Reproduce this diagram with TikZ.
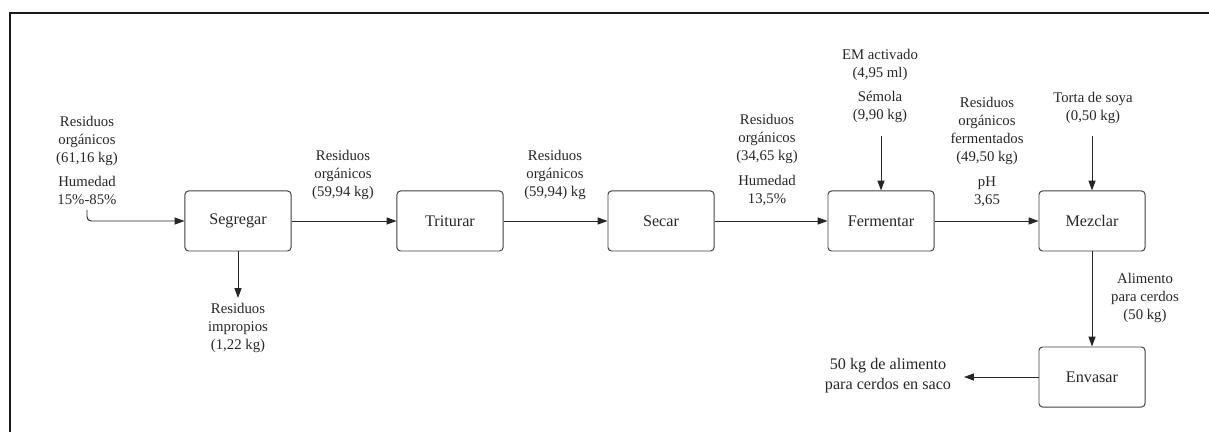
\documentclass[tikz,border=0pt]{standalone}
\usepackage{fontspec}
\setmainfont{Liberation Serif}
\usetikzlibrary{positioning}
\usetikzlibrary{arrows.meta}
\tikzset{proceso/.style={draw=black!75, line width=0.7pt, rounded corners=2.5pt,
  minimum width=2.65cm, minimum height=1.5cm, text=black!85,
  font=\fontsize{11.5}{14}\selectfont}}
\tikzset{etiqueta/.style={align=center, inner sep=0pt, text=black!85,
  font=\fontsize{10.5}{12.8}\selectfont}}
\tikzset{flujo/.style={-{Triangle[length=7pt,width=5pt]}, line width=0.7pt, draw=black!85}}

\begin{document}
\begin{tikzpicture}[x=0.025cm,y=-0.025cm]
\useasboundingbox (0,0) rectangle (1209,432);
\draw[line width=1.3pt, black!90] (10,432) -- (10,13) -- (1209,13);

\node[proceso] (seg) at (238,221) {Segregar};
\node[proceso] (trit) at (450,221) {Triturar};
\node[proceso] (sec) at (661,221) {Secar};
\node[proceso] (ferm) at (881,221) {Fermentar};
\node[proceso] (mez) at (1092,221) {Mezclar};
\node[proceso] (env) at (1092,377) {Envasar};

\node[etiqueta] (lentrada) at (87,160) {Residuos\\orgánicos\\(61,16 kg)\\[4.3pt]Humedad\\15\%-85\%};
\node[etiqueta] (lseg) at (343,175) {Residuos\\orgánicos\\(59,94 kg)};
\node[etiqueta] (ltrit) at (555,175) {Residuos\\orgánicos\\(59,94) kg};
\node[etiqueta] (lsec) at (767,160) {Residuos\\orgánicos\\(34,65 kg)\\[4.3pt]Humedad\\13,5\%};
\node[etiqueta] (lsemola) at (880,86) {EM activado\\(4,95 ml)\\[4.3pt]Sémola\\(9,90 kg)};
\node[etiqueta] (lferm) at (987,152) {Residuos\\orgánicos\\fermentados\\(49,50 kg)\\[4.3pt]pH\\3,65};
\node[etiqueta] (ltorta) at (1093,108) {Torta de soya\\(0,50 kg)};
\node[etiqueta] (lmez) at (1145,298) {Alimento\\para cerdos\\(50 kg)};
\node[etiqueta] (limpropios) at (238,328) {Residuos\\impropios\\(1,22 kg)};
\node[etiqueta, font=\fontsize{11.5}{14.2}\selectfont] (lsaco) at (888,376) {50 kg de alimento\\para cerdos en saco};

\coordinate (entrada) at (87,210);
\coordinate (impropios) at (238,298);
\coordinate (semola) at (881,136);
\coordinate (torta) at (1092,136);
\coordinate (saco) at (964,377);

\draw[flujo, rounded corners=3pt] (entrada) |- (seg.west);
\foreach \a/\b in {seg/trit, trit/sec, sec/ferm, ferm/mez, mez/env}
  \draw[flujo] (\a) -- (\b);
\draw[flujo] (seg) -- (impropios);
\draw[flujo] (semola) -- (ferm);
\draw[flujo] (torta) -- (mez);
\draw[flujo] (env) -- (saco);
\end{tikzpicture}
\end{document}
